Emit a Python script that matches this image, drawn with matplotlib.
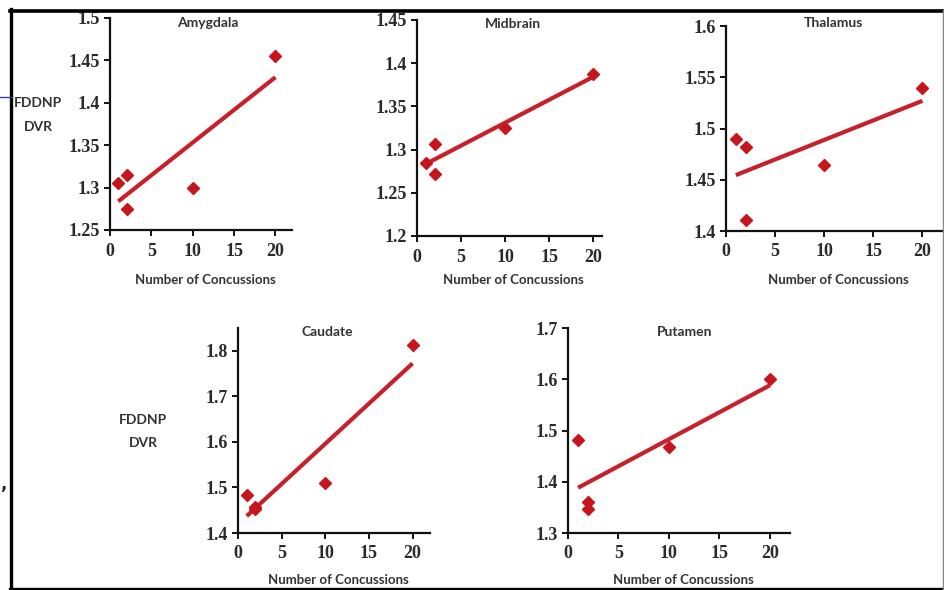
import numpy as np
import matplotlib
matplotlib.use("Agg")
import matplotlib.pyplot as plt
from matplotlib.lines import Line2D

# ---------------------------------------------------------------------------
# data: FDDNP DVR vs number of concussions, one panel per brain region
# ---------------------------------------------------------------------------
regions = ["Amygdala", "Midbrain", "Thalamus", "Caudate", "Putamen"]
concussions = [1, 2, 2, 10, 20]

amygdala = [1.305, 1.315, 1.275, 1.300, 1.455]
midbrain = [1.285, 1.307, 1.272, 1.325, 1.387]
thalamus = [1.490, 1.482, 1.411, 1.464, 1.540]
caudate = [1.483, 1.457, 1.452, 1.510, 1.813]
putamen = [1.482, 1.360, 1.347, 1.468, 1.600]

series = [amygdala, midbrain, thalamus, caudate, putamen]

y_ticks = [
    [1.25, 1.3, 1.35, 1.4, 1.45, 1.5],
    [1.2, 1.25, 1.3, 1.35, 1.4, 1.45],
    [1.4, 1.45, 1.5, 1.55, 1.6],
    [1.4, 1.5, 1.6, 1.7, 1.8],
    [1.3, 1.4, 1.5, 1.6, 1.7],
]
y_lims = [(1.25, 1.5), (1.2, 1.45), (1.4, 1.6), (1.4, 1.85), (1.3, 1.7)]
x_ticks = [0, 5, 10, 15, 20]

W, H = 945, 590
RED = "#c4161c"
LINE_RED = "#c8202a"


def px(x, y):
    """pixel (from top-left) -> figure fraction"""
    return x / W, 1 - y / H


# axes boxes in pixels: left, top, right, bottom  (+ x max, title x, title y, xlabel y)
boxes = [
    (110, 18, 292, 230, 22, 208, 23, 280),
    (417, 20, 602, 236, 21, 513, 24, 280),
    (726, 26, 942, 231, 22, 833, 23, 280),
    (238, 328, 430, 533, 22, 327, 332, 580),
    (568, 328, 790, 533, 22, 685, 332, 580),
]

fig = plt.figure(figsize=(W / 100, H / 100), dpi=100)
fig.patch.set_facecolor("white")

for name, yv, yt, yl, box in zip(regions, series, y_ticks, y_lims, boxes):
    l, t, r, b, xmax, tx, ty, xly = box
    ax = fig.add_axes([l / W, 1 - b / H, (r - l) / W, (b - t) / H])
    x = np.array(concussions, dtype=float)
    y = np.array(yv)
    k, c = np.polyfit(x, y, 1)
    xf = np.array([x.min(), x.max()])
    ax.plot(xf, k * xf + c, color=LINE_RED, lw=3.0, solid_capstyle="butt", zorder=2)
    ax.plot(x, y, "D", color=RED, ms=6.3, mec=RED, zorder=3)

    ax.set_xlim(0, xmax)
    ax.set_ylim(*yl)
    ax.set_xticks(x_ticks)
    ax.set_yticks(yt)
    ax.set_yticklabels([f"{v:g}" for v in yt])
    for s in ["top", "right"]:
        ax.spines[s].set_visible(False)
    for s in ["left", "bottom"]:
        ax.spines[s].set_linewidth(1.6)
        ax.spines[s].set_color("#111111")
    ax.tick_params(direction="out", length=4, width=1.4, colors="#111111",
                   labelsize=13, pad=3)
    ax.tick_params(axis="x", pad=5)
    for lab in ax.get_xticklabels() + ax.get_yticklabels():
        lab.set_fontfamily("Liberation Serif")
        lab.set_fontweight("bold")
        lab.set_color("#2a2a2a")
    ax.patch.set_alpha(0)

    fig.text(*px(tx, ty), name, ha="center", va="center", fontsize=10,
             family="Lato", fontweight="bold", color="#333333")
    fig.text(*px((l + r) / 2 + 4, xly), "Number of Concussions", ha="center",
             va="center", fontsize=9.5, family="Lato", fontweight="bold",
             color="#333333")

# y axis label, once per row
for (cx, y1, y2) in [(38, 103, 127), (143, 420, 443)]:
    fig.text(*px(cx, y1), "FDDNP", ha="center", va="center", fontsize=10,
             family="Lato", fontweight="bold", color="#333333")
    fig.text(*px(cx, y2), "DVR", ha="center", va="center", fontsize=10,
             family="Lato", fontweight="bold", color="#333333")

# slide frame
def fline(x0, y0, x1, y1, **kw):
    fig.add_artist(Line2D([x0 / W, x1 / W], [1 - y0 / H, 1 - y1 / H], **kw))

fline(10, 10.5, 943, 10.5, color="black", lw=2.6)
fline(11, 9, 11, 590, color="black", lw=2.4)
fline(10, 588.5, 945, 588.5, color="black", lw=2.4)
fline(943, 10, 943, 590, color="#888888", lw=1.0)
fline(0, 97, 12, 97, color="#3a3a9a", lw=1.0)
fig.text(*px(0, 484), ",", ha="left", va="center", fontsize=12,
         fontweight="bold", color="#222222")

fig.savefig("out.png", dpi=100)
